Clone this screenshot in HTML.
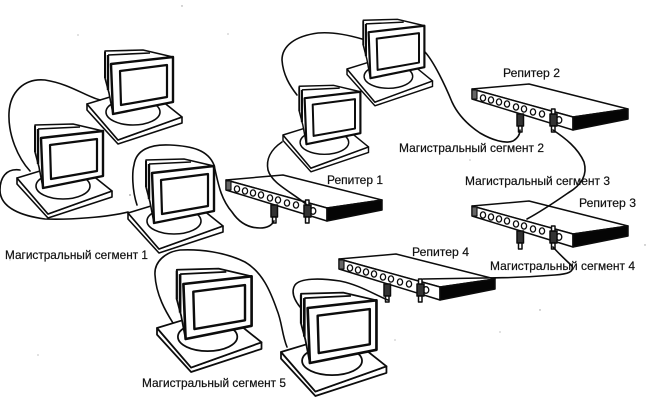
<!DOCTYPE html>
<html><head><meta charset="utf-8"><style>
html,body{margin:0;padding:0;background:#fff}
svg{display:block}
text{font-family:"Liberation Sans",sans-serif;font-size:12px;fill:#111;stroke:#111;stroke-width:.2}
</style></head><body>
<svg width="659" height="400" viewBox="0 0 659 400" xmlns="http://www.w3.org/2000/svg">
<defs>
<g id="pc" fill="#fff" stroke="#0c0c0c" stroke-width="1.6" stroke-linejoin="round">
<polygon points="87,104 87,110 118,144 182,123 182,117 118,140"/>
<polygon points="87,104 110,97 157,97 182,117 118,140"/>
<ellipse cx="133" cy="112" rx="27" ry="13" fill="none"/>
<polygon points="105,51 143,50 173,57 173,102 113,114 109,93 105,78"/>
<polyline points="108,55 150,53" fill="none"/>
<polyline points="108,55 108,90" fill="none" stroke-width="2.4"/>
<polyline points="105,52 105,78" fill="none" stroke-width="2"/>
<polygon points="111,64 173,57 173,102 113,114" stroke-width="2.4"/>
<polygon points="120,71 167,65 167,97 121,105" stroke-width="2.2"/>
</g>
<g id="rep" stroke="#0c0c0c" stroke-width="1.5" stroke-linejoin="round">
<polygon points="226,180 283,175 382,200 327,208" fill="#fff"/>
<polygon points="226,180 327,208 327,221 226,190" fill="#fff"/>
<polygon points="327,208 382,200 382,210 327,221" fill="#050505"/>
<rect x="226" y="181" width="5" height="9" fill="#666" stroke-width="1.1"/>
<g fill="#fff" stroke-width="1.3">
<ellipse cx="237" cy="189" rx="2.6" ry="3.1"/>
<ellipse cx="245" cy="191" rx="2.6" ry="3.1"/>
<ellipse cx="253" cy="193" rx="2.6" ry="3.1"/>
<ellipse cx="261" cy="195" rx="2.6" ry="3.1"/>
<ellipse cx="270" cy="198" rx="2.6" ry="3.1"/>
<ellipse cx="278" cy="200" rx="2.6" ry="3.1"/>
<ellipse cx="287" cy="203" rx="2.6" ry="3.1"/>
<ellipse cx="296" cy="205" rx="2.6" ry="3.1"/>
<ellipse cx="313" cy="211" rx="2.8" ry="3.3"/>
</g>
<rect x="271" y="205" width="6.500" height="12" fill="#333"/>
<rect x="272.500" y="217" width="3.500" height="6" fill="#fff"/>
<rect x="304" y="205" width="7" height="12" fill="#333"/>
<rect x="305.500" y="200" width="3.500" height="5" fill="#fff"/>
<rect x="305.500" y="217" width="3.500" height="6" fill="#fff"/>
</g>
</defs>

<use href="#pc" transform="translate(87,104) translate(-87,-104)"/>
<use href="#pc" transform="translate(17,178) translate(-87,-104)"/>
<use href="#pc" transform="translate(128,213) translate(-87,-104)"/>
<use href="#pc" transform="translate(347,69) scale(.9,.92) translate(-87,-104)"/>
<use href="#pc" transform="translate(283,135) scale(.9,.92) translate(-87,-104)"/>
<use href="#pc" transform="translate(157,328) scale(1.1,1.1) translate(-87,-104)"/>
<use href="#pc" transform="translate(281,352) scale(1.11,1.1) translate(-87,-104)"/>

<use href="#rep"/>
<use href="#rep" transform="translate(246,-91)"/>
<use href="#rep" transform="translate(246,26)"/>
<use href="#rep" transform="translate(113,79)"/>

<g fill="none" stroke="#0c0c0c" stroke-width="1.6" stroke-linecap="round">
<path d="M100 100 C85 96,70 84,45 80 C24 78,10 92,9 113 C8 135,18 158,30 171"/>
<path d="M20 170 C6 168,0 178,0 190 C0 208,22 216,45 219 C70 220,108 217,128 212"/>
<path d="M137 205 C132 190,132 172,134 165 C136 150,150 144,170 145 C192 146,208 150,214 165 C218 182,220 198,232 212 C240 224,250 228,260 228 C268 228,272 225,274 221"/>
<path d="M362 39 C345 34,330 32,318 33 C295 36,282 46,282 60 C283 75,290 86,297 95"/>
<path d="M282 142 C270 150,266 160,268 170 C272 184,292 192,307 205"/>
<path d="M425 52 C434 62,445 85,452 102 C458 115,468 125,480 133 C492 140,505 144,513 141 C518 138,520 134,520 130"/>
<path d="M553 130 C565 138,578 148,584 162 C588 176,580 186,568 193 C555 202,540 212,527 219"/>
<path d="M553 247 C560 255,568 262,572 266 C574 272,568 274,555 275 C530 277,500 278,483 278 L423 279"/>
<path d="M388 300 C375 295,360 285,340 281 C320 278,300 278,295 285 C290 293,296 302,300 307"/>
<path d="M287 347 C282 335,282 322,277 310 C270 290,262 272,245 262 C225 252,200 249,180 250 C165 252,154 262,155 275 C156 295,166 312,173 323"/>
</g>

<g fill="#999">
<circle cx="182" cy="6" r=".7"/><circle cx="78" cy="35" r=".6"/><circle cx="228" cy="34" r=".6"/>
<circle cx="10" cy="260" r=".5"/><circle cx="38" cy="355" r=".6"/><circle cx="540" cy="310" r=".7"/>
<circle cx="645" cy="245" r=".7"/><circle cx="500" cy="332" r=".6"/><circle cx="395" cy="340" r=".6"/>
<circle cx="130" cy="195" r=".9"/><circle cx="470" cy="160" r=".6"/>
</g>

<text x="5" y="259" textLength="143" lengthAdjust="spacingAndGlyphs">Магистральный сегмент 1</text>
<text x="399" y="152" textLength="145" lengthAdjust="spacingAndGlyphs">Магистральный сегмент 2</text>
<text x="465" y="185" textLength="145" lengthAdjust="spacingAndGlyphs">Магистральный сегмент 3</text>
<text x="490" y="270" textLength="145" lengthAdjust="spacingAndGlyphs">Магистральный сегмент 4</text>
<text x="142" y="387" textLength="144" lengthAdjust="spacingAndGlyphs">Магистральный сегмент 5</text>
<text x="327" y="184" textLength="56" lengthAdjust="spacingAndGlyphs">Репитер 1</text>
<text x="503" y="77" textLength="57" lengthAdjust="spacingAndGlyphs">Репитер 2</text>
<text x="579" y="207" textLength="57" lengthAdjust="spacingAndGlyphs">Репитер 3</text>
<text x="412" y="256" textLength="57" lengthAdjust="spacingAndGlyphs">Репитер 4</text>
</svg>
</body></html>
